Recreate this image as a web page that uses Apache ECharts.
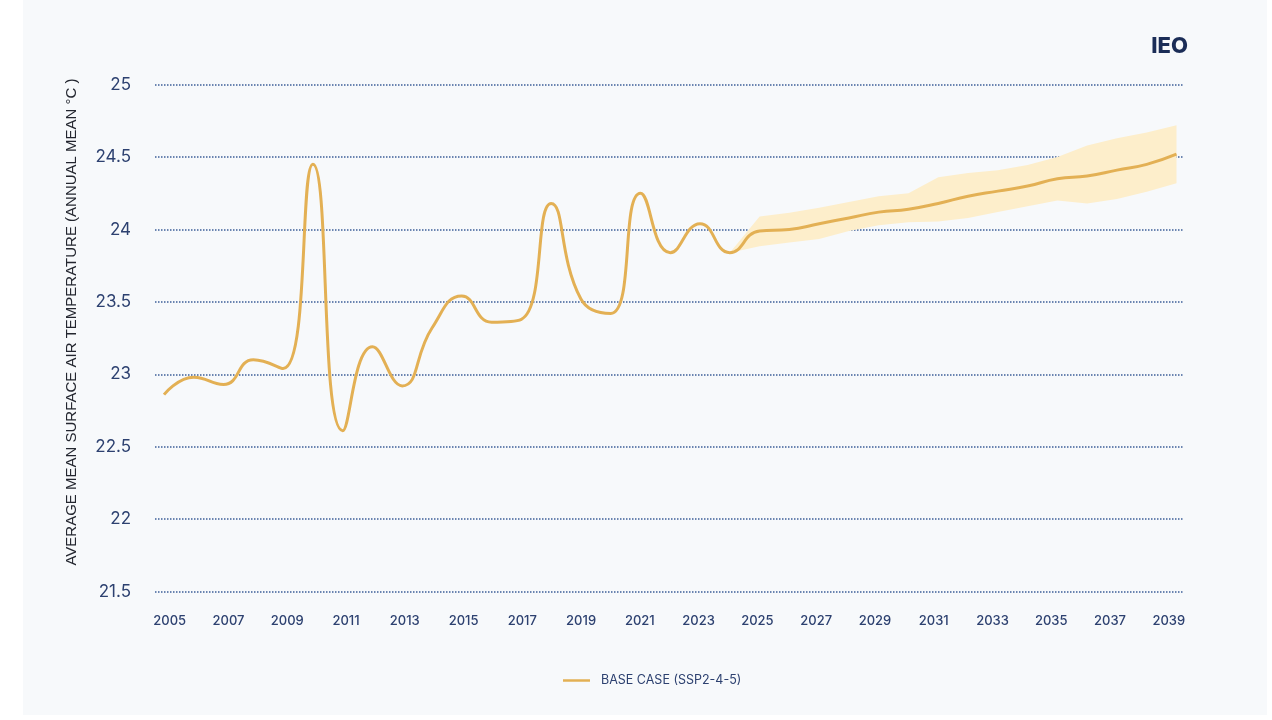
<!DOCTYPE html>
<html>
<head>
<meta charset="utf-8">
<script src="https://cdn.jsdelivr.net/npm/echarts@6/dist/echarts.min.js"></script>
<style>
	html, body { margin: 0; padding: 0; background: #ffffff; }
	#chart { position: absolute; left: 23px; top: 0; width: 1244px; height: 715px; background: #f7f9fb; }
</style>
</head>
<body>
<div id="chart"></div>
<script>
// years shown on the axis
var years = [2005, 2006, 2007, 2008, 2009, 2010, 2011, 2012, 2013, 2014, 2015, 2016,
	2017, 2018, 2019, 2020, 2021, 2022, 2023, 2024, 2025, 2026, 2027, 2028,
	2029, 2030, 2031, 2032, 2033, 2034, 2035, 2036, 2037, 2038, 2039];
// base case (SSP2-4-5), annual mean °C
var baseCase = [22.86, 22.98, 22.93, 23.10, 23.04, 24.45, 22.61, 23.19, 22.92, 23.32,
	23.54, 23.36, 23.38, 24.18, 23.52, 23.42, 24.25, 23.84, 24.04, 23.84,
	23.99, 24.00, 24.04, 24.08, 24.12, 24.14, 24.18, 24.23, 24.265, 24.30,
	24.35, 24.37, 24.41, 24.45, 24.52];
// uncertainty band, 2024 - 2039
var bandYears = [2024, 2025, 2026, 2027, 2028, 2029, 2030, 2031, 2032, 2033, 2034, 2035, 2036, 2037, 2038, 2039];
var bandLow = [23.84, 23.885, 23.91, 23.935, 23.99, 24.03, 24.05, 24.055, 24.08, 24.12, 24.16, 24.20, 24.18, 24.21, 24.26, 24.32];
var bandHigh = [23.84, 24.09, 24.115, 24.15, 24.19, 24.23, 24.25, 24.36, 24.39, 24.41, 24.445, 24.50, 24.58, 24.63, 24.67, 24.72];
var yTicks = { min: 21.5, max: 25, interval: 0.5 };

var navy = '#2d4170';
var lineColor = '#e3b054';
var bandColor = '#fdeecb';

// band drawn as one polygon: upper edge left->right, lower edge right->left
function renderBand(params, api) {
	if (params.dataIndex !== 0) {
		return null;
	}
	var points = [];
	for (var i = 0; i < bandYears.length; i++) {
		points.push(api.coord([bandYears[i], bandHigh[i]]));
	}
	for (var j = bandYears.length - 1; j >= 0; j--) {
		points.push(api.coord([bandYears[j], bandLow[j]]));
	}
	return {
		type: 'polygon',
		shape: { points: points },
		style: { fill: bandColor }
	};
}

var chart = echarts.init(document.getElementById('chart'));
chart.setOption({
	animation: false,
	title: {
		text: 'IEO',
		right: 74,
		top: 30,
		textStyle: { color: '#1b2d57', fontSize: 22, fontWeight: 800, fontFamily: 'Inter' }
	},
	graphic: [{
		type: 'text',
		x: 49,
		y: 322,
		rotation: Math.PI / 2,
		style: {
			text: 'AVERAGE MEAN SURFACE AIR TEMPERATURE (ANNUAL MEAN °C )',
			fill: '#23262f',
			font: '15px "Liberation Sans", Arial, sans-serif',
			textAlign: 'center',
			textVerticalAlign: 'middle'
		}
	}],
	legend: {
		data: [{ name: 'BASE CASE (SSP2-4-5)', icon: 'rect' }],
		left: 535,
		top: 669,
		itemWidth: 27,
		itemHeight: 2.5,
		textStyle: { color: navy, fontSize: 12.5, fontFamily: 'Inter', padding: [0, 0, 0, 6] }
	},
	grid: { // 网格
		left: 132,
		right: 83.5,
		top: 84.7,
		bottom: 123.5
	},
	xAxis: [{
		type: 'category',
		data: years,
		boundaryGap: true,
		axisLine: { show: false },
		axisTick: { show: false },
		splitLine: { show: false },
		axisLabel: { interval: 1, color: navy, fontSize: 13, fontWeight: 500, fontFamily: 'Inter', margin: 23 }
	}, {
		type: 'value',
		show: false,
		min: 2004.6978,
		max: 2039.235,
		splitLine: { show: false }
	}],
	yAxis: {
		type: 'value',
		min: yTicks.min,
		max: yTicks.max,
		interval: yTicks.interval,
		axisLine: { show: false },
		axisTick: { show: false },
		axisLabel: { color: navy, fontSize: 17, fontFamily: 'Inter', margin: 24 },
		splitLine: {
			lineStyle: { type: 'dotted', color: '#3d5f99', width: 1.5 }
		}
	},
	series: [{
		name: 'band',
		type: 'custom',
		xAxisIndex: 1,
		silent: true,
		renderItem: renderBand,
		encode: { x: 0, y: [1, 2] },
		data: bandYears.map(function(y, i) { return [y, bandLow[i], bandHigh[i]]; }),
		z: 2
	}, {
		name: 'BASE CASE (SSP2-4-5)',
		type: 'line',
		xAxisIndex: 1,
		smooth: true,
		symbol: 'none',
		itemStyle: { color: lineColor },
		lineStyle: { color: lineColor, width: 3 },
		z: 5,
		data: years.map(function(y, i) { return [y, baseCase[i]]; })
	}]
});
</script>
</body>
</html>
